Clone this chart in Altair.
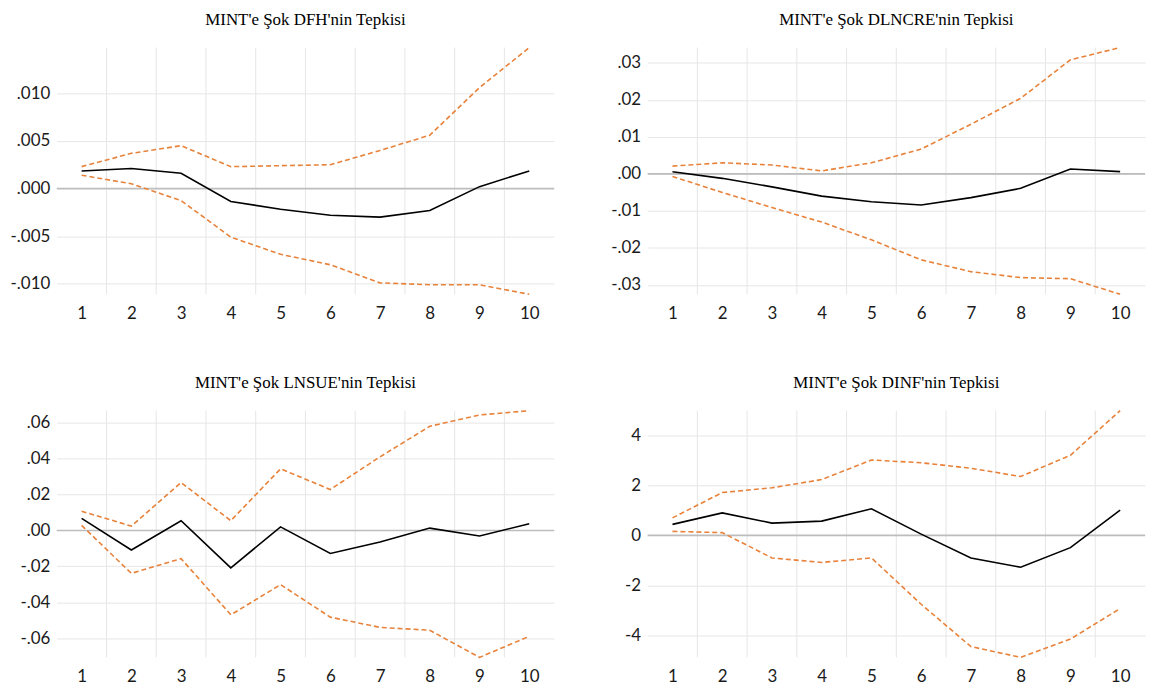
import altair as alt
import pandas as pd

periods = [1, 2, 3, 4, 5, 6, 7, 8, 9, 10]

titles = [
    "MINT'e Şok DFH'nin Tepkisi",
    "MINT'e Şok DLNCRE'nin Tepkisi",
    "MINT'e Şok LNSUE'nin Tepkisi",
    "MINT'e Şok DINF'nin Tepkisi",
]

# DFH
dfh_resp = [0.00185, 0.0021, 0.0016, -0.00136, -0.00217, -0.0028, -0.0030, -0.0023, 0.0002, 0.00185]
dfh_hi = [0.0023, 0.0037, 0.0045, 0.0023, 0.0024, 0.0025, 0.0040, 0.0056, 0.0106, 0.0148]
dfh_lo = [0.0014, 0.0005, -0.00126, -0.0051, -0.0069, -0.0080, -0.0099, -0.0101, -0.0101, -0.0111]
dfh_ticks = [-0.010, -0.005, 0.0, 0.005, 0.010]

# DLNCRE
cre_resp = [0.0006, -0.0012, -0.0035, -0.0060, -0.0075, -0.0084, -0.0064, -0.0039, 0.0013, 0.0006]
cre_hi = [0.0021, 0.0030, 0.0024, 0.0008, 0.0030, 0.0067, 0.0134, 0.0204, 0.0308, 0.0341]
cre_lo = [-0.0007, -0.0050, -0.0091, -0.0130, -0.0178, -0.0232, -0.0264, -0.0280, -0.0283, -0.0325]
cre_ticks = [-0.03, -0.02, -0.01, 0.0, 0.01, 0.02, 0.03]

# LNSUE
sue_resp = [0.0067, -0.0109, 0.0054, -0.0209, 0.0020, -0.0128, -0.0065, 0.0013, -0.0031, 0.0037]
sue_hi = [0.0107, 0.0024, 0.0267, 0.0054, 0.0343, 0.0228, 0.0410, 0.0580, 0.0643, 0.0667]
sue_lo = [0.0028, -0.0239, -0.0157, -0.0470, -0.0302, -0.0483, -0.0540, -0.0556, -0.0707, -0.0590]
sue_ticks = [-0.06, -0.04, -0.02, 0.0, 0.02, 0.04, 0.06]

# DINF
inf_resp = [0.44, 0.90, 0.49, 0.57, 1.06, 0.05, -0.90, -1.27, -0.49, 1.01]
inf_hi = [0.70, 1.71, 1.90, 2.23, 3.01, 2.90, 2.68, 2.35, 3.20, 4.98]
inf_lo = [0.16, 0.11, -0.90, -1.08, -0.90, -2.75, -4.44, -4.87, -4.14, -2.92]
inf_ticks = [-4, -2, 0, 2, 4]

ORANGE = "#E8823A"
GRID = "#E6E6E6"
ZERO = "#BDBDBD"

grid_x = [(a + b) / 2 for a, b in zip(periods[:-1], periods[1:])]


def panel(title, resp, lo, hi, ticks, fmt, strip_zero):
    df = pd.DataFrame({
        "period": periods * 3,
        "value": resp + lo + hi,
        "series": ["resp"] * 10 + ["lo"] * 10 + ["hi"] * 10,
    })
    allv = resp + lo + hi
    yscale = alt.Scale(domain=[min(allv), max(allv)], nice=False, zero=False)
    xscale = alt.Scale(domain=[periods[0] - 0.5, periods[-1] + 0.5], nice=False, zero=False)
    if strip_zero:
        expr = "replace(replace(format(datum.value, '%s'), '0.', '.'), '\u2212', '-')" % fmt
    else:
        expr = "replace(format(datum.value, '%s'), '\u2212', '-')" % fmt
    yaxis = alt.Axis(values=ticks, labelExpr=expr, grid=True, gridColor=GRID, gridWidth=1,
                     ticks=False, tickSize=0, domain=False, title=None,
                     minExtent=49, maxExtent=49, labelPadding=7,
                     labelFont="Lato", labelFontSize=17, labelColor="#1a1a1a")
    xaxis = alt.Axis(values=periods, format="d", grid=False, ticks=False, tickSize=0,
                     domain=False, title=None, labelPadding=11, labelAngle=0,
                     labelFont="Lato", labelFontSize=17, labelColor="#1a1a1a")

    base = alt.Chart(df)
    vgrid = alt.Chart(pd.DataFrame({"g": grid_x})).mark_rule(color=GRID, strokeWidth=1).encode(
        x=alt.X("g:Q", scale=xscale, axis=xaxis)
    )
    zero = alt.Chart(pd.DataFrame({"z": [0]})).mark_rule(color=ZERO, strokeWidth=1.6).encode(
        y=alt.Y("z:Q", scale=yscale, axis=yaxis)
    )
    bands = base.transform_filter("datum.series != 'resp'").mark_line(
        color=ORANGE, strokeWidth=1.6, strokeDash=[5, 3]
    ).encode(
        x=alt.X("period:Q", scale=xscale),
        y=alt.Y("value:Q", scale=yscale),
        detail="series:N",
    )
    line = base.transform_filter("datum.series == 'resp'").mark_line(
        color="#000000", strokeWidth=1.6
    ).encode(
        x=alt.X("period:Q", scale=xscale),
        y=alt.Y("value:Q", scale=yscale),
    )
    return alt.layer(vgrid, zero, bands, line).properties(
        width=500, height=248,
        title=alt.TitleParams(title, font="Liberation Serif", fontSize=17, fontWeight="normal",
                              color="#000000", anchor="middle", offset=16),
    )


p1 = panel(titles[0], dfh_resp, dfh_lo, dfh_hi, dfh_ticks, ".3f", True)
p2 = panel(titles[1], cre_resp, cre_lo, cre_hi, cre_ticks, ".2f", True)
p3 = panel(titles[2], sue_resp, sue_lo, sue_hi, sue_ticks, ".2f", True)
p4 = panel(titles[3], inf_resp, inf_lo, inf_hi, inf_ticks, "d", False)

chart = alt.vconcat(
    alt.hconcat(p1, p2, spacing=44),
    alt.hconcat(p3, p4, spacing=44),
    spacing=52,
).properties(padding=0, background="#ffffff").configure_view(stroke=None)

chart.save("out.html", embed_options={"renderer": "svg", "actions": False})
